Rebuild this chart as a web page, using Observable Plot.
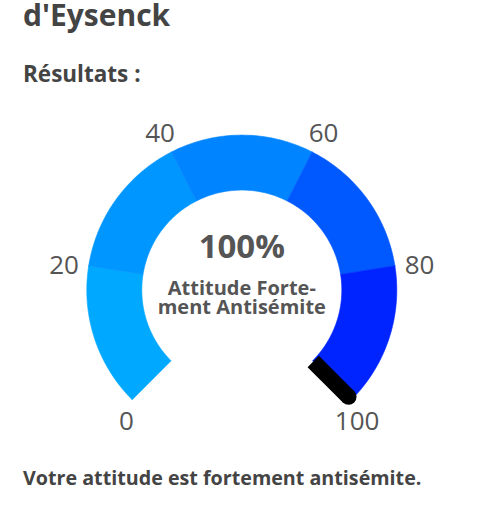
<!DOCTYPE html>
<html>
<head>
<meta charset="utf-8">
<script src="https://cdn.jsdelivr.net/npm/d3@7"></script>
<script src="https://cdn.jsdelivr.net/npm/@observablehq/plot@0.6"></script>
<style>
  html, body { margin: 0; padding: 0; background: #fff; }
  body { width: 482px; height: 512px; overflow: hidden; font-family: "Open Sans", sans-serif; color: #444; }
  #title { margin: 0; padding-left: 23px; font-size: 30px; font-weight: 700; line-height: 30px; height: 30px; }
  #sub { margin: 0; padding-left: 23px; font-size: 22.5px; font-weight: 700; line-height: 28px; height: 28px; margin-top: 30px; }
  #chart { height: 350px; margin-top: 12px; }
  #chart svg { display: block; }
  #cap { padding-left: 23px; font-size: 19.7px; font-weight: 700; line-height: 26px; margin-top: 15px; }
</style>
</head>
<body>
<div id="title">d'Eysenck</div>
<div id="sub">Résultats :</div>
<div id="chart"></div>
<div id="cap">Votre attitude est fortement antisémite.</div>
<script>
// ---- data ----
const tickValues = [0, 20, 40, 60, 80, 100];
const segStart = [0, 20, 40, 60, 80];
const segEnd = [20, 40, 60, 80, 100];
const segColors = ["#00a8ff", "#0096ff", "#0084ff", "#0058ff", "#0024ff"];
const score = 100;
const scoreLabel = "Attitude Forte-\nment Antisémite";

// ---- geometry (gauge units: outer radius = 1) ----
const W = 482, H = 350;
const pxPerUnit = 155;
const cxPx = 241.3, cyPx = 189.6;
const rOut = 1, rIn = 100 / 155, rLabel = 180 / 155;
const minV = 0, maxV = 100, startDeg = -135, sweepDeg = 270;
const ang = v => (startDeg + sweepDeg * (v - minV) / (maxV - minV)) * Math.PI / 180;
const pt = (v, r) => ({x: r * Math.sin(ang(v)), y: -r * Math.cos(ang(v))});

function arcPolygon(v0, v1, seg) {
  const n = 48, pts = [];
  for (let i = 0; i <= n; i++) pts.push({...pt(v0 + (v1 - v0) * i / n, rOut), seg});
  for (let i = n; i >= 0; i--) pts.push({...pt(v0 + (v1 - v0) * i / n, rIn), seg});
  pts.push(pts[0]);
  return pts;
}

const segMarks = segStart.map((s, i) =>
  Plot.line(arcPolygon(s, segEnd[i], i), {
    x: "x", y: "y", fill: segColors[i], stroke: segColors[i], strokeWidth: 0.6, curve: "linear"
  })
);

const labels = tickValues.map(v => {
  const p = pt(v, rLabel);
  const u = pt(v, 1);
  return {x: p.x, y: p.y, text: String(v), dx: u.y > 0.5 ? -u.x * 17 : 0};
});

const needle = [pt(score, 101 / 155), pt(score, 151 / 155)];

const plot = Plot.plot({
  width: W, height: H,
  margin: 0,
  x: {domain: [-cxPx / pxPerUnit, (W - cxPx) / pxPerUnit], range: [0, W], axis: null},
  y: {domain: [-cyPx / pxPerUnit, (H - cyPx) / pxPerUnit], range: [0, H], axis: null},
  style: {fontFamily: "Open Sans", background: "#fff"},
  marks: [
    ...segMarks,
    Plot.line(needle, {x: "x", y: "y", stroke: "#000", strokeWidth: 16, strokeLinecap: "butt"}),
    Plot.dot([needle[1]], {x: "x", y: "y", r: 8, fill: "#000", stroke: "none"}),
    ...labels.map(l => Plot.text([l], {x: "x", y: "y", text: "text", dx: l.dx, dy: 4, fontSize: 26, fill: "#555", fontWeight: 400})),
    Plot.text([{x: 0, y: 0, t: score + "%"}], {x: "x", y: "y", text: "t", fontSize: 33, fontWeight: 700, fill: "#555", dy: -43}),
    Plot.text([{x: 0, y: 0, t: scoreLabel}], {x: "x", y: "y", text: "t", fontSize: 20, fontWeight: 700, fill: "#555", lineHeight: 0.95, dy: 8})
  ]
});
document.getElementById("chart").appendChild(plot);
</script>
</body>
</html>
